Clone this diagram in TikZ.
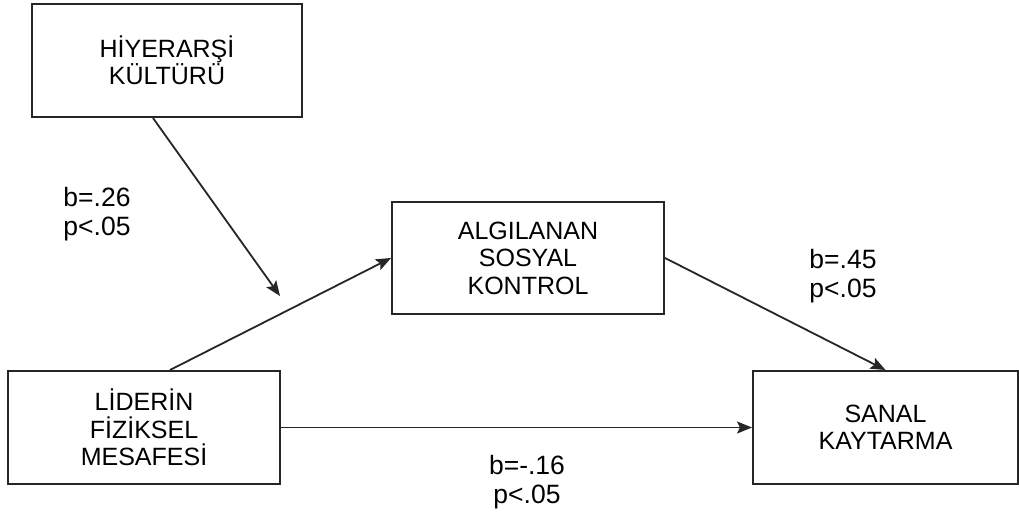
\documentclass[tikz,border=0pt]{standalone}
\usepackage{fontspec}
\setmainfont{Liberation Sans}
\usetikzlibrary{arrows.meta}
\begin{document}
\begin{tikzpicture}[x=1pt,y=-1pt,
  box/.style={draw=black!85, line width=2pt, fill=white, align=center,
    inner sep=0pt, font=\fontsize{25}{27.5}\selectfont},
  lbl/.style={font=\fontsize{26.5}{29}\selectfont, inner sep=0pt},
  conn/.style={line width=1.8pt, draw=black!85,
    -{Stealth[length=15pt,width=12pt,inset=3pt]}}]
\useasboundingbox (0,0) rectangle (1019,513);
\fill[white] (0,0) rectangle (1019,513);

% boxes
\node[box, minimum width=270pt, minimum height=113pt] (hk) at (167,60.5)
  {HİYERARŞİ\\KÜLTÜRÜ};
\node[box, minimum width=272pt, minimum height=112pt] (ask) at (528,258)
  {ALGILANAN\\SOSYAL\\KONTROL};
\node[box, minimum width=272pt, minimum height=113pt] (lfm) at (144,427.5)
  {LİDERİN\\FİZİKSEL\\MESAFESİ};
\node[box, minimum width=265pt, minimum height=113pt] (sk) at (885.5,427.5)
  {SANAL\\KAYTARMA};

% moderation arrow ends on the a-path
\coordinate (mod) at (280,296);

% connectors
\draw[conn] ([xshift=-14pt]hk.south) -- (mod);
\draw[conn] ([xshift=26pt]lfm.north) -- (ask.west);
\draw[conn] (ask.east) -- (sk.north);
\draw[conn] (lfm.east) -- (sk.west);

% path coefficients
\node[lbl, align=left] (c1) at (97,214) {b=.26\\p<.05};
\node[lbl, align=left] (c2) at (843,276) {b=.45\\p<.05};
\node[lbl, align=center] (c3) at (527,482) {b=-.16\\p<.05};
\end{tikzpicture}
\end{document}
